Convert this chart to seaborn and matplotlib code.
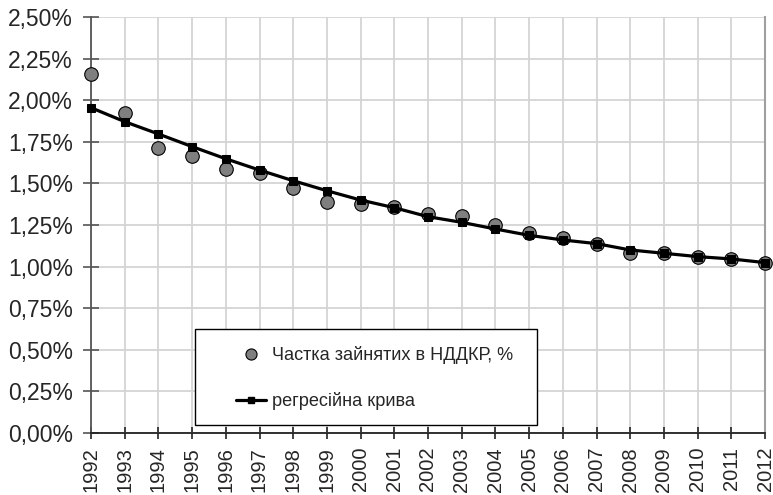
import matplotlib
matplotlib.use("Agg")
import matplotlib.pyplot as plt
import matplotlib.ticker as mticker
from matplotlib.patches import Rectangle
from matplotlib.lines import Line2D
import seaborn as sns
import pandas as pd

years = list(range(1992, 2013))
share = [2.157, 1.925, 1.715, 1.665, 1.585, 1.561, 1.474, 1.388, 1.374, 1.360,
         1.314, 1.304, 1.250, 1.200, 1.174, 1.138, 1.083, 1.080, 1.060, 1.046, 1.024]
regression = [1.955, 1.871, 1.797, 1.721, 1.648, 1.580, 1.516, 1.456, 1.400, 1.354,
              1.300, 1.266, 1.226, 1.188, 1.160, 1.138, 1.100, 1.080, 1.060, 1.046, 1.024]
label_points = "Частка зайнятих в НДДКР, %"
label_line = "регресійна крива"
y_ticks = [0, 0.25, 0.5, 0.75, 1.0, 1.25, 1.5, 1.75, 2.0, 2.25, 2.5]

df = pd.DataFrame({"year": years, "share": share, "regression": regression})

sns.set_theme(style="white")
plt.rcParams["font.family"] = ["Liberation Sans", "DejaVu Sans"]

fig = plt.figure(figsize=(7.73, 4.95), dpi=100)
ax = fig.add_axes([91 / 773, 1 - 433 / 495, (765 - 91) / 773, (433 - 17) / 495])

sns.scatterplot(data=df, x="year", y="share", ax=ax, s=95, color="#7f7f7f",
                edgecolor="black", linewidth=0.8, zorder=3, clip_on=False, legend=False)
sns.lineplot(data=df, x="year", y="regression", ax=ax, color="black", linewidth=2.3,
             marker="s", markersize=5.5, markeredgecolor="black", markerfacecolor="black",
             zorder=4, clip_on=False, legend=False)

ax.set_xlim(1992, 2012)
ax.set_ylim(0, 2.5)
ax.set_xticks(years)
ax.set_xticklabels([str(y) for y in years], rotation=90)
ax.set_yticks(y_ticks)
ax.yaxis.set_major_formatter(mticker.FuncFormatter(lambda v, p: f"{v:.2f}%".replace(".", ",")))
ax.set_xlabel("")
ax.set_ylabel("")

ax.grid(True, color="#d4d4d4", linewidth=1.3, zorder=0)
ax.set_axisbelow(True)
ax.spines["top"].set_visible(False)
ax.spines["right"].set_color("#a0a0a0")
ax.spines["right"].set_linewidth(1.5)
ax.spines["left"].set_color("#555555")
ax.spines["left"].set_linewidth(1.3)
ax.spines["bottom"].set_color("#222222")
ax.spines["bottom"].set_linewidth(1.3)
ax.tick_params(axis="x", direction="inout", length=8, width=1.2, color="#222222",
               labelsize=14.5, pad=6, bottom=True)
ax.tick_params(axis="y", direction="inout", length=12, width=1.2, color="#555555",
               labelsize=16.5, pad=7, left=True)

# legend frame
ax.add_patch(Rectangle((104 / 674, 8 / 416), 342 / 674, 96 / 416, transform=ax.transAxes,
                       facecolor="white", edgecolor="black", linewidth=1.0, zorder=5))
handles = [
    Line2D([], [], linestyle="none", marker="o", markersize=8, markerfacecolor="#7f7f7f",
           markeredgecolor="black", markeredgewidth=0.8),
    Line2D([], [], color="black", linewidth=2.3, marker="s", markersize=5),
]
leg = ax.legend(handles, [label_points, label_line], loc="upper left",
                bbox_to_anchor=((236 - 91) / 674, (433 - 346) / 416), frameon=False,
                fontsize=13.1, handlelength=1.67, handletextpad=0.32, labelspacing=1.55,
                borderpad=0, borderaxespad=0)
leg.set_zorder(6)

fig.savefig("out.png", dpi=100)
